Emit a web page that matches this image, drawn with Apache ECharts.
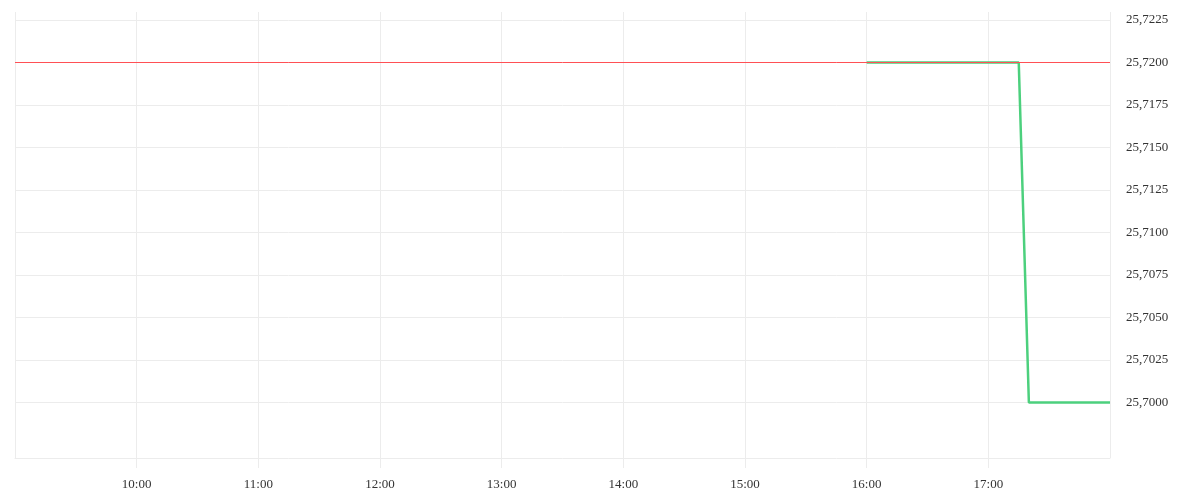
<!DOCTYPE html>
<html>
<head>
<meta charset="utf-8">
<style>
  html, body { margin: 0; padding: 0; background: #fff; }
  #chart { width: 1200px; height: 500px; }
</style>
<script src="https://cdn.jsdelivr.net/npm/echarts@6/dist/echarts.min.js"></script>
</head>
<body>
<div id="chart"></div>
<script>
// time of day in hours, price values
var times = [16.0, 17.25, 17.3333, 18.0];
var prices = [25.72, 25.72, 25.70, 25.70];
var refTimes = [9, 18];
var refLevel = 25.72;
var hourTicks = [10, 11, 12, 13, 14, 15, 16, 17];
var priceTicks = [25.7000, 25.7025, 25.7050, 25.7075, 25.7100, 25.7125, 25.7150, 25.7175, 25.7200, 25.7225];

function fmtPrice(v) {
    return Number(v).toFixed(4).replace('.', ',');
}

var points = [];
for (var i = 0; i < times.length; i++) {
    points.push([times[i], prices[i]]);
}
var refPoints = [];
for (var j = 0; j < refTimes.length; j++) {
    refPoints.push([refTimes[j], refLevel]);
}

var gridColor = '#ececec';
var labelFont = '"Liberation Serif", "DejaVu Serif", serif';

var myChart = echarts.init(document.getElementById('chart'));
myChart.setOption({
    animation: false,
    grid: { left: 15, right: 90, top: 12, bottom: 42, containLabel: false },
    xAxis: {
        type: 'value',
        min: 9,
        max: 18,
        interval: 1,
        axisLine: { show: true, lineStyle: { color: gridColor, width: 1 } },
        axisTick: { show: true, length: 10, lineStyle: { color: gridColor } },
        splitLine: { show: true, lineStyle: { color: gridColor, width: 1 } },
        axisLabel: {
            showMinLabel: false,
            showMaxLabel: false,
            margin: 20,
            color: '#333',
            fontFamily: labelFont,
            fontSize: 13,
            formatter: function (v) {
                return hourTicks.indexOf(v) >= 0 ? v + ':00' : '';
            }
        }
    },
    yAxis: {
        type: 'value',
        position: 'right',
        min: 25.696735,
        max: 25.722971,
        axisLine: { show: false },
        axisTick: { show: false, customValues: priceTicks },
        splitLine: { show: true, lineStyle: { color: gridColor, width: 1 } },
        axisLabel: {
            customValues: priceTicks,
            margin: 16,
            color: '#333',
            fontFamily: labelFont,
            fontSize: 13,
            formatter: fmtPrice
        }
    },
    series: [{
        type: 'line',
        data: points,
        showSymbol: false,
        z: 2,
        lineStyle: { color: '#4cd07d', width: 2.5 }
    }, {
        type: 'line',
        data: refPoints,
        showSymbol: false,
        silent: true,
        z: 3,
        lineStyle: { color: '#ff5055', width: 1 }
    }]
});
</script>
</body>
</html>
